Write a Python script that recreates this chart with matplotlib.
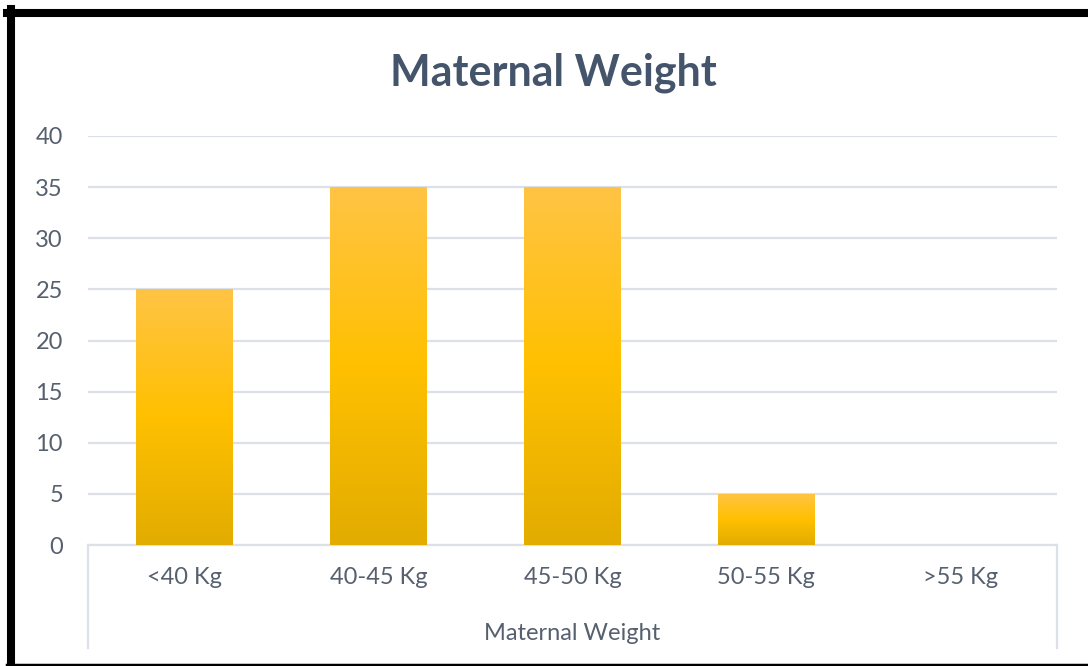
import numpy as np
import matplotlib
matplotlib.use("Agg")
import matplotlib.pyplot as plt
from matplotlib.colors import LinearSegmentedColormap
from matplotlib.lines import Line2D

categories = ["<40 Kg", "40-45 Kg", "45-50 Kg", "50-55 Kg", ">55 Kg"]
values = [25, 35, 35, 5, 0]
yticks = [0, 5, 10, 15, 20, 25, 30, 35, 40]

plt.rcParams['font.family'] = ['Lato', 'DejaVu Sans']

W, H = 1088, 666
fig = plt.figure(figsize=(W / 100, H / 100), dpi=100)
ax = fig.add_axes([88 / W, (H - 545) / H, 969 / W, 409 / H])

x = np.arange(len(categories))
bars = ax.bar(x, values, width=0.5, color="#FFC000", edgecolor="none", zorder=2)

# vertical gradient in each bar
cmap = LinearSegmentedColormap.from_list("gold", ["#E2AC00", "#FFC000", "#FFC445"])
grad = np.linspace(0, 1, 256).reshape(-1, 1)
for b in bars:
    h = b.get_height()
    if h <= 0:
        continue
    x0 = b.get_x()
    im = ax.imshow(grad, cmap=cmap, origin="lower", aspect="auto",
                   extent=[x0, x0 + b.get_width(), 0, h], zorder=3)
    im.set_clip_path(b)

ax.set_xlim(-0.5, len(categories) - 0.5)
ax.set_ylim(0, 40)
ax.set_yticks(yticks)
ax.set_yticklabels([str(v) for v in yticks])
ax.set_xticks(x)
ax.set_xticklabels(categories)
ax.grid(axis="y", color="#DCE0E8", linewidth=1.6, zorder=0)
ax.set_axisbelow(True)
for s in ["top", "right", "left"]:
    ax.spines[s].set_visible(False)
ax.spines["bottom"].set_color("#DCE0E8")
ax.spines["bottom"].set_linewidth(1.6)
ax.tick_params(axis="both", length=0, labelsize=17, colors="#56606E")
ax.tick_params(axis="y", pad=18)
ax.tick_params(axis="x", pad=16)

ax.set_xlabel("Maternal Weight", fontsize=17, color="#56606E", labelpad=25)

# axis box sides below the plot
for xp in [88, 1057]:
    fig.add_artist(Line2D([xp / W, xp / W], [(H - 545) / H, (H - 648) / H],
                          color="#DCE0E8", linewidth=1.6))

fig.text(553 / W, (H - 73) / H, "Maternal Weight", ha="center", va="center",
         fontsize=31, fontweight="bold", color="#44546A")

# black frame
fig.add_artist(Line2D([11 / W, 11 / W], [0, (H - 9) / H], color="black", linewidth=5.8))
fig.add_artist(Line2D([7 / W, 1], [(H - 13) / H, (H - 13) / H], color="black", linewidth=5.8))
fig.add_artist(Line2D([7 / W, 1], [(H - 665) / H, (H - 665) / H], color="black", linewidth=2.5))

fig.savefig("out.png", dpi=100)
